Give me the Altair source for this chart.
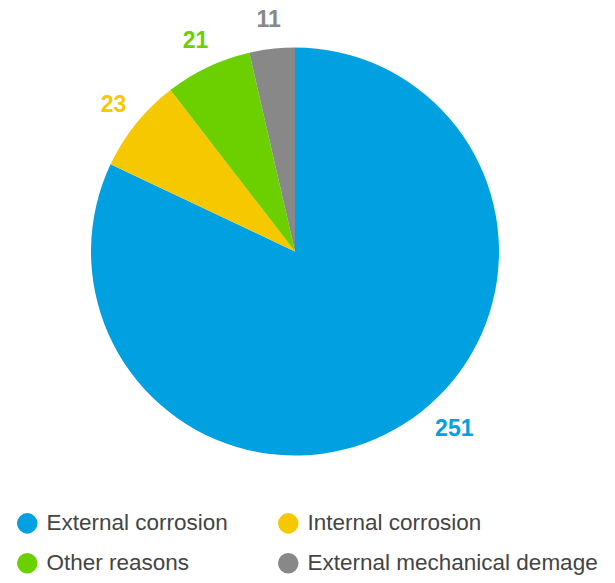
import altair as alt
import pandas as pd

categories = ["External corrosion", "Internal corrosion", "Other reasons", "External mechanical demage"]
values = [251, 23, 21, 11]
colors = ["#00A0E1", "#F5C800", "#6CD000", "#888888"]
order = [0, 1, 2, 3]

df = pd.DataFrame({"category": categories, "value": values, "order": order})
total = sum(values)

color_scale = alt.Scale(domain=categories, range=colors)
theta_scale = alt.Scale(domain=[0, total], zero=True, nice=False, range=[0, 6.283185307179586])

CX, CY = 287, 243.5

base = alt.Chart(df).transform_window(
    end="sum(value)", sort=[alt.SortField("order")], frame=[None, 0]
).transform_calculate(
    start="datum.end - datum.value",
    mid="datum.end - datum.value / 2",
)

arcs = base.mark_arc(outerRadius=204, stroke=None).encode(
    x=alt.value(CX),
    y=alt.value(CY),
    theta=alt.Theta("start:Q", stack=None, scale=theta_scale),
    theta2="end:Q",
    color=alt.Color(
        "category:N",
        scale=color_scale,
        sort=categories,
        legend=alt.Legend(
            title=None,
            orient="none",
            direction="horizontal",
            legendX=8,
            legendY=504,
            columns=2,
            columnPadding=49,
            rowPadding=17,
            symbolType="circle",
            symbolSize=420,
            symbolStrokeWidth=0,
            labelFont="Liberation Sans",
            labelFontSize=22.5,
            labelColor="#444444",
            labelOffset=8,
            padding=0,
            labelLimit=400,
        ),
    ),
)

labels_small = base.mark_text(
    radius=233, font="Liberation Sans", fontSize=23, fontWeight="bold"
).encode(
    x=alt.value(CX),
    y=alt.value(CY),
    theta=alt.Theta("mid:Q", stack=None, scale=theta_scale),
    text="value:Q",
    color=alt.Color("category:N", scale=color_scale, legend=None),
).transform_filter(alt.datum.value < 100)

labels_big = base.mark_text(
    radius=236, font="Liberation Sans", fontSize=23, fontWeight="bold", dx=33, dy=-22
).encode(
    x=alt.value(CX),
    y=alt.value(CY),
    theta=alt.Theta("mid:Q", stack=None, scale=theta_scale),
    text="value:Q",
    color=alt.Color("category:N", scale=color_scale, legend=None),
).transform_filter(alt.datum.value >= 100)

chart = (
    alt.layer(arcs, labels_small, labels_big)
    .properties(width=599, height=567, padding=0, autosize=alt.AutoSizeParams(type="none"))
    .configure_view(stroke=None)
)

chart.save("out.html", embed_options={"renderer": "svg", "actions": False})
